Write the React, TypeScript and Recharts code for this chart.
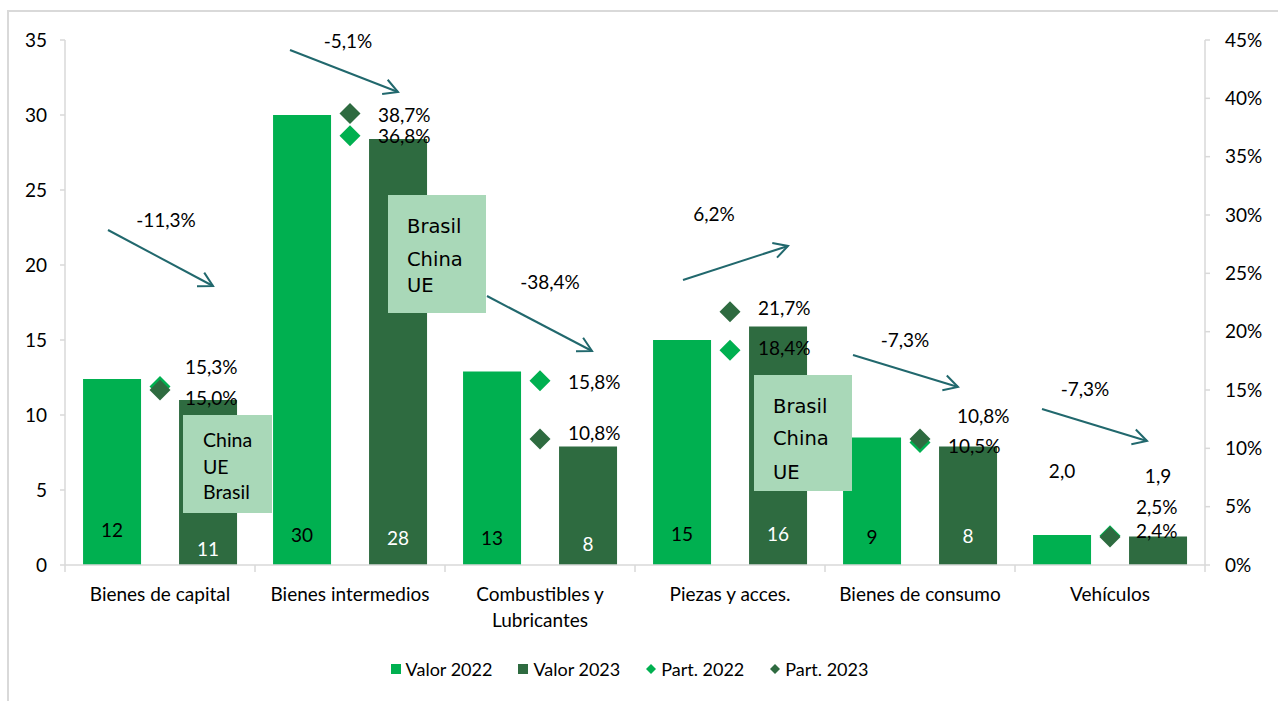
import React from 'react';
import { ComposedChart, Bar, Line, XAxis, YAxis, Legend } from 'recharts';

const categories = ['Bienes de capital', 'Bienes intermedios', 'Combustibles y\nLubricantes', 'Piezas y acces.', 'Bienes de consumo', 'Vehículos'];
const valor2022 = [12.4, 30.0, 12.9, 15.0, 8.5, 2.0];
const valor2023 = [11.0, 28.4, 7.9, 15.9, 7.9, 1.9];
const part2022 = [15.3, 36.8, 15.8, 18.4, 10.5, 2.5];
const part2023 = [15.0, 38.7, 10.8, 21.7, 10.8, 2.4];
const variations = ['-11,3%', '-5,1%', '-38,4%', '6,2%', '-7,3%', '-7,3%'];
const originBoxes = [['China', 'UE', 'Brasil'], ['Brasil', 'China', 'UE'], ['Brasil', 'China', 'UE']];
const leftTicks = [0, 5, 10, 15, 20, 25, 30, 35];
const rightTicks = [0, 5, 10, 15, 20, 25, 30, 35, 40, 45];

const data = categories.map((c, i) => ({
  name: c,
  v2022: valor2022[i],
  v2023: valor2023[i],
  p2022: part2022[i],
  p2023: part2023[i],
}));

// styling / label placement constants
const LIGHT = '#00B050';
const DARK = '#2E6B40';
const BOX = '#A9D8B8';
const ARROW = '#21686D';
const AXIS = '#D9D9D9';
const FONT = 'Lato, "Open Sans", sans-serif';
const BOXFONT = '"DejaVu Sans", sans-serif';
const FS = 19;

const barLabelRise2022 = [36, 31, 28, 32, 29, 95];
const barLabelRise2023 = [17, 28, 22, 32, 30, 90];
const partLabelDy2022 = [-20, 0, 1, -3, 3, -29];
const partLabelDy2023 = [7, 1, -7, -4, -24, -7];
const partLabelDx2022 = [25, 28, 28, 28, 28, 26];
const partLabelDx2023 = [25, 28, 28, 28, 37, 26];

const arrows = [
  { x1: 108, y1: 230, x2: 213, y2: 286, lx: 166, ly: 219 },
  { x1: 290, y1: 50, x2: 398, y2: 92, lx: 348, ly: 40 },
  { x1: 487, y1: 296, x2: 592, y2: 351, lx: 550, ly: 281 },
  { x1: 683, y1: 280, x2: 788, y2: 246, lx: 714, ly: 213 },
  { x1: 853, y1: 355, x2: 958, y2: 387, lx: 905, ly: 339 },
  { x1: 1042, y1: 409, x2: 1147, y2: 441, lx: 1085, ly: 388 },
];
const boxes = [
  { x: 183, y: 415, w: 89, h: 98, tx: 203, lines: [439, 466, 491], font: FONT, size: 19.5 },
  { x: 388, y: 195, w: 98, h: 118, tx: 407, lines: [226, 259, 285], font: BOXFONT, size: 19.5 },
  { x: 754, y: 375, w: 98, h: 116, tx: 773, lines: [406, 438, 472], font: BOXFONT, size: 19.5 },
];

const fmtBar = (v: number) => (v >= 5 ? String(Math.round(v)) : v.toFixed(1).replace('.', ','));
const fmtPct = (v: number) => v.toFixed(1).replace('.', ',') + '%';

const makeDiamond = (fill: string) => (props: any) => {
  const { cx, cy, index } = props;
  if (cx == null || cy == null) return <g key={index} />;
  const r = 10.5;
  return <path key={index} d={`M${cx},${cy - r}L${cx + r},${cy}L${cx},${cy + r}L${cx - r},${cy}Z`} fill={fill} />;
};

const makePartLabel = (dxs: number[], dys: number[]) => (props: any) => {
  const { x, y, value, index } = props;
  return (
    <text key={index} x={x + dxs[index]} y={y + dys[index]} fontFamily={FONT} fontSize={FS} fill="#000" dominantBaseline="central">
      {fmtPct(value)}
    </text>
  );
};

const makeBarLabel = (rises: number[], color: string) => (props: any) => {
  const { x, y, width, height, value, index } = props;
  const fill = value < 5 ? '#000' : color;
  return (
    <text key={index} x={x + width / 2} y={y + height - rises[index]} textAnchor="middle" dominantBaseline="central" fontFamily={FONT} fontSize={FS} fill={fill}>
      {fmtBar(value)}
    </text>
  );
};

const XTick = (props: any) => {
  const { x, y, payload, index } = props;
  const lines = String(payload.value).split('\n');
  return (
    <g>
      {index === 0 && <line x1={x - 95} x2={x - 95} y1={y} y2={y + 7} stroke={AXIS} strokeWidth={1.5} />}
      <line x1={x + 95} x2={x + 95} y1={y} y2={y + 7} stroke={AXIS} strokeWidth={1.5} />
      {lines.map((l, i) => (
        <text key={i} x={x} y={y + 28 + i * 26} textAnchor="middle" dominantBaseline="central" fontFamily={FONT} fontSize={FS} fill="#000">
          {l}
        </text>
      ))}
    </g>
  );
};

const LegendContent = () => {
  const items = [
    { label: 'Valor 2022', color: LIGHT, shape: 'square' },
    { label: 'Valor 2023', color: DARK, shape: 'square' },
    { label: 'Part. 2022', color: LIGHT, shape: 'diamond' },
    { label: 'Part. 2023', color: DARK, shape: 'diamond' },
  ];
  return (
    <div style={{ height: 30, display: 'flex', justifyContent: 'center', alignItems: 'center', fontFamily: FONT, fontSize: 18, color: '#000', paddingRight: 6 }}>
      {items.map((it, i) => (
        <div key={i} style={{ display: 'flex', alignItems: 'center', marginRight: i < items.length - 1 ? 26 : 0 }}>
          <svg width={10} height={10} style={{ marginRight: 5 }}>
            {it.shape === 'square' ? (
              <rect x={0} y={0} width={10} height={10} fill={it.color} />
            ) : (
              <path d="M5,0L10,5L5,10L0,5Z" fill={it.color} />
            )}
          </svg>
          <span>{it.label}</span>
        </div>
      ))}
    </div>
  );
};

const Annotations = () => (
  <svg width={1278} height={701} style={{ position: 'absolute', left: 0, top: 0, pointerEvents: 'none' }}>
    {arrows.map((a, i) => {
      const ang = Math.atan2(a.y2 - a.y1, a.x2 - a.x1);
      const L = 16;
      const s = 0.5;
      const h1x = a.x2 - L * Math.cos(ang - s);
      const h1y = a.y2 - L * Math.sin(ang - s);
      const h2x = a.x2 - L * Math.cos(ang + s);
      const h2y = a.y2 - L * Math.sin(ang + s);
      return (
        <g key={i}>
          <line x1={a.x1} y1={a.y1} x2={a.x2} y2={a.y2} stroke={ARROW} strokeWidth={2} />
          <polyline points={`${h1x},${h1y} ${a.x2},${a.y2} ${h2x},${h2y}`} fill="none" stroke={ARROW} strokeWidth={2} />
          <text x={a.lx} y={a.ly} textAnchor="middle" dominantBaseline="central" fontFamily={FONT} fontSize={FS} fill="#000">
            {variations[i]}
          </text>
        </g>
      );
    })}
    {boxes.map((b, i) => (
      <g key={i}>
        <rect x={b.x} y={b.y} width={b.w} height={b.h} fill={BOX} />
        {originBoxes[i].map((t, j) => (
          <text key={j} x={b.tx} y={b.lines[j]} dominantBaseline="central" fontFamily={b.font} fontSize={b.size} fill="#000">
            {t}
          </text>
        ))}
      </g>
    ))}
  </svg>
);

export default function App() {
  return (
    <div style={{ position: 'absolute', left: 0, top: 0, width: 1278, height: 701, background: '#fff' }}>
      <div style={{ position: 'absolute', left: 7, top: 10, width: 1271, height: 691, borderTop: `2px solid ${AXIS}`, borderLeft: `2px solid ${AXIS}`, boxSizing: 'border-box' }} />
      <div style={{ position: 'absolute', left: 0, top: 0 }}>
        <ComposedChart width={1278} height={701} data={data} margin={{ top: 40, right: 13, bottom: 17, left: 0 }} barCategoryGap="9.5%" barGap={38}>
          <XAxis dataKey="name" xAxisId={0} height={89} interval={0} tick={<XTick />} tickLine={false} tickSize={0} tickMargin={0} axisLine={{ stroke: AXIS, strokeWidth: 1.5 }} />
          <YAxis yAxisId="left" orientation="left" width={65} domain={[0, 35]} ticks={leftTicks} interval={0} axisLine={{ stroke: AXIS, strokeWidth: 1.5 }} tickLine={{ stroke: AXIS, strokeWidth: 1.5 }} tickSize={5} tickMargin={13} tick={{ fill: '#000', fontFamily: FONT, fontSize: FS }} />
          <YAxis yAxisId="right" orientation="right" width={60} domain={[0, 45]} ticks={rightTicks} interval={0} tickFormatter={(v: number) => `${v}%`} axisLine={{ stroke: AXIS, strokeWidth: 1.5 }} tickLine={{ stroke: AXIS, strokeWidth: 1.5 }} tickSize={5} tickMargin={15} tick={{ fill: '#000', fontFamily: FONT, fontSize: FS, textAnchor: 'start' }} />
          <Legend verticalAlign="bottom" content={<LegendContent />} />
          <Bar yAxisId="left" dataKey="v2022" name="Valor 2022" fill={LIGHT} isAnimationActive={false} label={makeBarLabel(barLabelRise2022, '#000')} />
          <Bar yAxisId="left" dataKey="v2023" name="Valor 2023" fill={DARK} isAnimationActive={false} label={makeBarLabel(barLabelRise2023, '#fff')} />
          <Line yAxisId="right" dataKey="p2022" name="Part. 2022" stroke="none" legendType="diamond" dot={makeDiamond(LIGHT)} activeDot={false} isAnimationActive={false} label={makePartLabel(partLabelDx2022, partLabelDy2022)} />
          <Line yAxisId="right" dataKey="p2023" name="Part. 2023" stroke="none" legendType="diamond" dot={makeDiamond(DARK)} activeDot={false} isAnimationActive={false} label={makePartLabel(partLabelDx2023, partLabelDy2023)} />
        </ComposedChart>
      </div>
      <Annotations />
    </div>
  );
}
